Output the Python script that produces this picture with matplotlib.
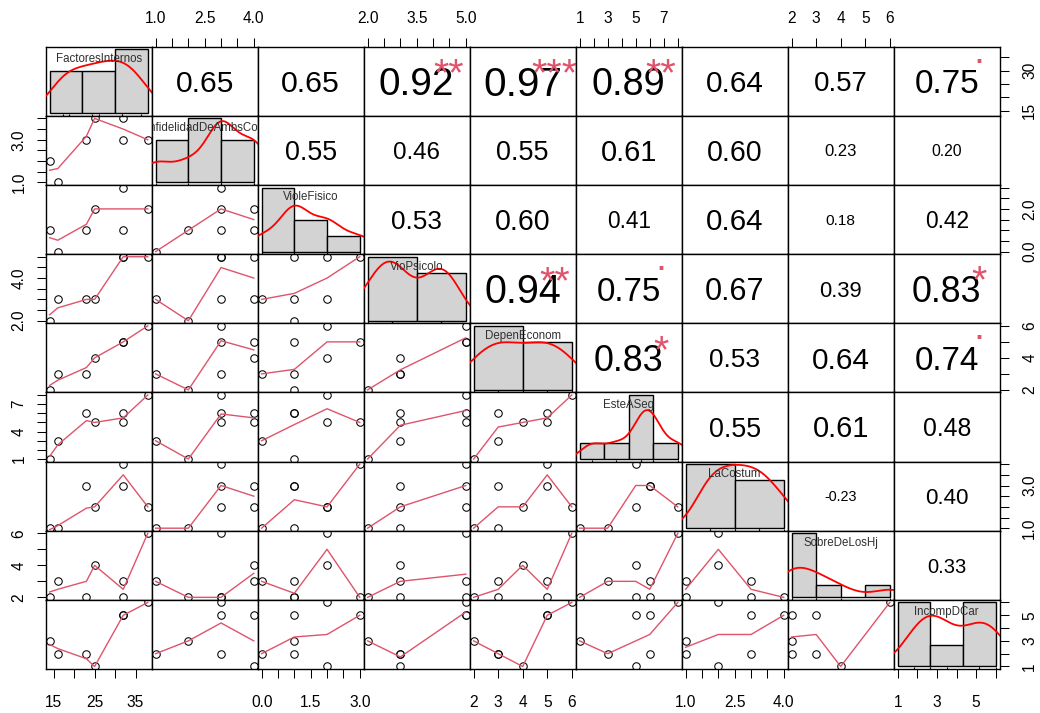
import numpy as np
import matplotlib
matplotlib.use('Agg')
import matplotlib.pyplot as plt
from math import lgamma

plt.rcParams['font.family'] = ['Liberation Sans', 'DejaVu Sans']

# ---- data (7 observations, 9 variables) ----
names = ['FactoresInternos', 'InfidelidadDeAmbsCon', 'VioleFisico', 'VioPsicolo',
         'DepenEconom', 'EsteASeg', 'LaCostum', 'SobreDeLosHj', 'IncompDCar']

factores_internos = [14, 16, 23, 25, 32, 32, 38]
infidelidad = [2, 1, 3, 4, 4, 3, 3]
viole_fisico = [1, 0, 1, 2, 1, 3, 2]
vio_psicolo = [2, 3, 3, 3, 5, 5, 5]
depen_econom = [2, 3, 3, 4, 5, 5, 6]
este_aseg = [1, 3, 6, 5, 6, 5, 8]
la_costum = [1, 1, 3, 2, 3, 4, 2]
sobre_hijos = [2, 3, 2, 4, 3, 2, 6]
incomp_car = [3, 2, 2, 1, 5, 5, 6]

data = [factores_internos, infidelidad, viole_fisico, vio_psicolo, depen_econom,
        este_aseg, la_costum, sobre_hijos, incomp_car]

# axis ticks per variable, and the labels R kept on horizontal / vertical sides
ticks = [[15, 20, 25, 30, 35],
         [1, 1.5, 2, 2.5, 3, 3.5, 4],
         [0, 0.5, 1, 1.5, 2, 2.5, 3],
         [2, 2.5, 3, 3.5, 4, 4.5, 5],
         [2, 3, 4, 5, 6],
         [1, 2, 3, 4, 5, 6, 7, 8],
         [1, 1.5, 2, 2.5, 3, 3.5, 4],
         [2, 3, 4, 5, 6],
         [1, 2, 3, 4, 5, 6]]
hlabels = [{15: '15', 25: '25', 35: '35'},
           {1: '1.0', 2.5: '2.5', 4: '4.0'},
           {0: '0.0', 1.5: '1.5', 3: '3.0'},
           {2: '2.0', 3.5: '3.5', 5: '5.0'},
           {2: '2', 3: '3', 4: '4', 5: '5', 6: '6'},
           {1: '1', 3: '3', 5: '5', 7: '7'},
           {1: '1.0', 2.5: '2.5', 4: '4.0'},
           {2: '2', 3: '3', 4: '4', 5: '5', 6: '6'},
           {1: '1', 3: '3', 5: '5'}]
vlabels = [{15: '15', 30: '30'},
           {1: '1.0', 3: '3.0'},
           {0: '0.0', 2: '2.0'},
           {2: '2.0', 4: '4.0'},
           {2: '2', 4: '4', 6: '6'},
           {1: '1', 4: '4', 7: '7'},
           {1: '1.0', 3: '3.0'},
           {2: '2', 4: '4', 6: '6'},
           {1: '1', 3: '3', 5: '5'}]

R_PINK = '#DF536B'


def pad(lo, hi):
    r = hi - lo
    return lo - 0.04 * r, hi + 0.04 * r


def r_pretty(lo, hi, ndiv):
    h, h5 = 1.5, 0.5 + 1.5 * 1.5
    cell = (hi - lo) / max(ndiv, 1)
    base = 10 ** np.floor(np.log10(cell))
    unit = base
    if 2 * base - cell < h * (cell - unit):
        unit = 2 * base
        if 5 * base - cell < h5 * (cell - unit):
            unit = 5 * base
            if 10 * base - cell < h * (cell - unit):
                unit = 10 * base
    ns = np.floor(lo / unit + 1e-10)
    nu = np.ceil(hi / unit - 1e-10)
    return np.arange(ns, nu + 0.5) * unit


def fd_breaks(x):
    x = np.asarray(x, float)
    iqr = np.subtract(*np.percentile(x, [75, 25]))
    ncl = int(np.ceil((x.max() - x.min()) / (2 * iqr * len(x) ** (-1 / 3))))
    return r_pretty(x.min(), x.max(), ncl)


def r_density(x):
    x = np.asarray(x, float)
    lo = min(x.std(ddof=1), np.subtract(*np.percentile(x, [75, 25])) / 1.34)
    bw = 0.9 * lo * len(x) ** -0.2
    g = np.linspace(x.min() - 3 * bw, x.max() + 3 * bw, 512)
    d = np.exp(-0.5 * ((g[:, None] - x[None, :]) / bw) ** 2).sum(1)
    return g, d / (len(x) * bw * np.sqrt(2 * np.pi))


def r_lowess(x, y, f=2 / 3, iters=3):
    o = np.argsort(x, kind='stable')
    x = np.asarray(x, float)[o]
    y = np.asarray(y, float)[o]
    n = len(x)
    ns = max(2, min(n, int(f * n + 1e-7)))
    delta = 0.01 * (x[-1] - x[0])
    rw = np.ones(n)
    ys = np.zeros(n)

    def lowest(xs, nleft, nright, userw):
        rng = x[-1] - x[0]
        h = max(xs - x[nleft], x[nright] - xs)
        w = np.zeros(n)
        a = 0.0
        j = nleft
        while j < n:
            r = abs(x[j] - xs)
            if r <= 0.999 * h:
                w[j] = 1.0 if r <= 0.001 * h else (1 - (r / h) ** 3) ** 3
                if userw:
                    w[j] *= rw[j]
                a += w[j]
            elif x[j] > xs:
                break
            j += 1
        sl = slice(nleft, j)
        if a <= 0:
            return None
        w[sl] /= a
        if h > 0:
            a = np.sum(w[sl] * x[sl])
            b = xs - a
            c = np.sum(w[sl] * (x[sl] - a) ** 2)
            if np.sqrt(c) > 0.001 * rng:
                w[sl] *= (b / c) * (x[sl] - a) + 1
        return np.sum(w[sl] * y[sl])

    for it in range(iters + 1):
        nleft, nright, last, i = 0, ns - 1, -1, 0
        while True:
            if nright < n - 1:
                if x[i] - x[nleft] > x[nright + 1] - x[i]:
                    nleft += 1
                    nright += 1
                    continue
            v = lowest(x[i], nleft, nright, it > 0)
            ys[i] = y[i] if v is None else v
            if last < i - 1:
                for j in range(last + 1, i):
                    al = (x[j] - x[last]) / (x[i] - x[last])
                    ys[j] = al * ys[i] + (1 - al) * ys[last]
            last = i
            cut = x[last] + delta
            i = last + 1
            while i < n:
                if x[i] > cut:
                    break
                if x[i] == x[last]:
                    ys[i] = ys[last]
                    last = i
                i += 1
            i = max(last + 1, i - 1)
            if last >= n - 1:
                break
        if it >= iters:
            break
        ar = np.abs(y - ys)
        sc = ar.sum() / n
        srt = np.sort(ar)
        m1 = n // 2
        cmad = 3 * (srt[m1] + srt[n - m1 - 1]) if n % 2 == 0 else 6 * srt[m1]
        if cmad < 1e-7 * sc:
            break
        rw = np.where(ar <= 0.001 * cmad, 1.0,
                      np.where(ar <= 0.999 * cmad, (1 - (ar / cmad) ** 2) ** 2, 0.0))
    return x, ys


def cor_pvalue(r, n):
    df = n - 2
    t = abs(r) * np.sqrt(df / (1 - r * r))
    g = np.linspace(0, t, 20001)
    c = np.exp(lgamma((df + 1) / 2) - lgamma(df / 2)) / np.sqrt(df * np.pi)
    return 1 - 2 * np.trapezoid(c * (1 + g ** 2 / df) ** (-(df + 1) / 2), g)


def signif(p):
    for cut, sym in [(0.001, '***'), (0.01, '**'), (0.05, '*'), (0.1, '.')]:
        if p <= cut:
            return sym
    return ''


# ---- layout ----
W, H = 1040, 713
fig = plt.figure(figsize=(W / 100, H / 100), dpi=100)
fig.patch.set_facecolor('white')
renderer = fig.canvas.get_renderer()
X0, Y0, CW, RH = 45.7, 46.7, 106.0, 69.15
NV = len(data)
TICK_FS = 11.2
lims = [pad(min(v), max(v)) for v in data]


def add_label(ax, side, val, txt):
    if side == 'top':
        ax.annotate(txt, (val, 1), xycoords=ax.get_xaxis_transform(), xytext=(0, 20.4),
                    textcoords='offset points', ha='center', va='center', fontsize=TICK_FS)
    elif side == 'bottom':
        ax.annotate(txt, (val, 0), xycoords=ax.get_xaxis_transform(), xytext=(0, -24.0),
                    textcoords='offset points', ha='center', va='center', fontsize=TICK_FS)
    elif side == 'left':
        ax.annotate(txt, (0, val), xycoords=ax.get_yaxis_transform(), xytext=(-19.2, 0),
                    textcoords='offset points', ha='center', va='center', fontsize=TICK_FS,
                    rotation=90)
    else:
        ax.annotate(txt, (1, val), xycoords=ax.get_yaxis_transform(), xytext=(21.6, 0),
                    textcoords='offset points', ha='center', va='center', fontsize=TICK_FS,
                    rotation=90)


for i in range(NV):
    for j in range(NV):
        rect = [(X0 + j * CW) / W, 1 - (Y0 + (i + 1) * RH) / H, CW / W, RH / H]
        ax = fig.add_axes(rect)
        ax.set_xlim(lims[j])
        ax.set_ylim(lims[i])
        for s in ax.spines.values():
            s.set_linewidth(1.0)
        ax.tick_params(direction='out', length=6.5, width=0.75, top=False, bottom=False,
                       left=False, right=False, labelbottom=False, labelleft=False)
        ax.set_xticks([])
        ax.set_yticks([])

        # outer axes, alternating sides like R pairs()
        xside = 'top' if (i == 0 and j % 2 == 1) else ('bottom' if (i == NV - 1 and j % 2 == 0) else None)
        yside = 'left' if (j == 0 and i % 2 == 1) else ('right' if (j == NV - 1 and i % 2 == 0) else None)
        if xside:
            ax.set_xticks(ticks[j])
            ax.tick_params(axis='x', **{xside: True})
            for v, t in hlabels[j].items():
                add_label(ax, xside, v, t)
        if yside:
            ax.set_yticks(ticks[i])
            ax.tick_params(axis='y', **{yside: True})
            for v, t in vlabels[i].items():
                add_label(ax, yside, v, t)

        if i > j:
            ax.plot(data[j], data[i], 'o', mfc='none', mec='black', ms=5.4, mew=0.75)
            lx, ly = r_lowess(data[j], data[i])
            ax.plot(lx, ly, color=R_PINK, lw=1.0)
        elif i < j:
            r = np.corrcoef(data[i], data[j])[0, 1]
            txt = f'{r:.2f}'
            t = ax.text(0.5, 0.5, txt, transform=ax.transAxes, fontsize=10)
            base = 10 * 0.756 * CW / t.get_window_extent(renderer).width
            t.remove()
            fs = base * (abs(r) + 0.3) / 1.3
            ax.annotate(txt, (0.5, 0.5), xycoords='axes fraction', xytext=(0, -0.358 * fs),
                        textcoords='offset points', ha='center', va='baseline', fontsize=fs)
            sym = signif(cor_pvalue(r, len(data[i])))
            if sym:
                off = 0.05 if sym == '.' else 0.6
                ax.annotate(sym, (0.8, 0.8), xycoords='axes fraction', xytext=(0, -off * base),
                            textcoords='offset points', ha='center', va='baseline',
                            fontsize=base * 0.95, color=R_PINK)
        else:
            hax = ax.inset_axes([0, 0, 1, 1])
            hax.set_axis_off()
            x = np.asarray(data[i], float)
            br = fd_breaks(x)
            idx = np.clip(np.searchsorted(br, x, side='left') - 1, 0, len(br) - 2)
            counts = np.bincount(idx, minlength=len(br) - 1)
            dens = counts / (len(x) * np.diff(br))
            hax.bar(br[:-1], dens, width=np.diff(br), align='edge', color='#D3D3D3',
                    edgecolor='black', linewidth=1.0)
            m = dens.max()
            hax.set_xlim(pad(br[0], br[-1]))
            hax.set_ylim(-0.04 * m, 1.04 * m)
            gx, gy = r_density(x)
            hax.plot(gx, gy, color='red', lw=1.3)
            hax.vlines(x, 0, 0.03, transform=hax.get_xaxis_transform(), color='black', lw=0.8)
            hax.text(0.5, 0.82, names[i], transform=hax.transAxes, ha='center', va='center',
                     fontsize=8.3, color='#303030', clip_on=True)

fig.savefig('out.png', dpi=100, facecolor='white')
